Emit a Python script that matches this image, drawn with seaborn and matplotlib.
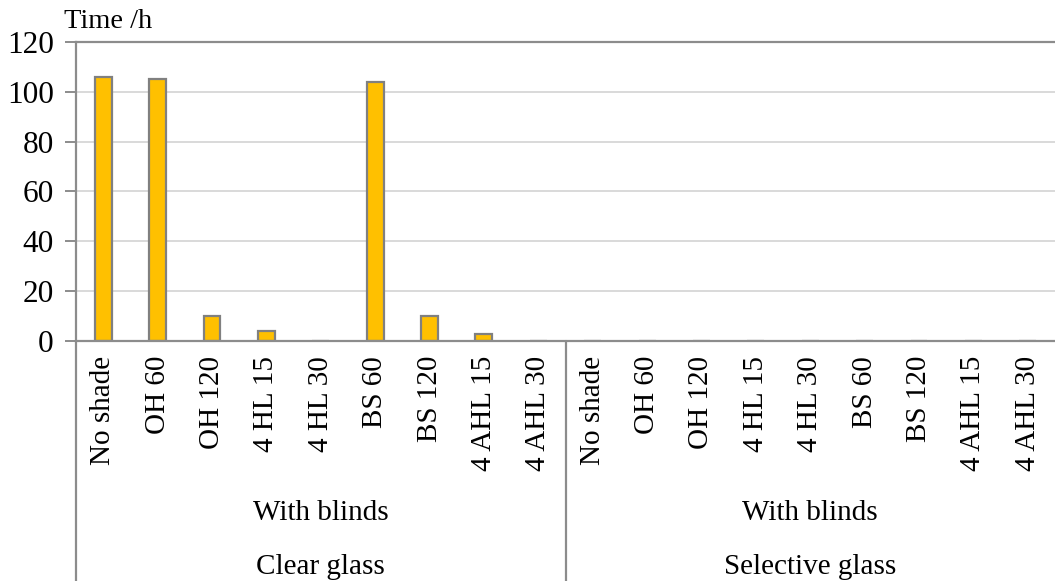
import matplotlib
matplotlib.use("Agg")
import matplotlib.pyplot as plt
import seaborn as sns
import pandas as pd
from matplotlib.lines import Line2D

# Data
glass_types = ["Clear glass", "Selective glass"]
shading_group = "With blinds"
configs = ["No shade", "OH 60", "OH 120", "4 HL 15", "4 HL 30",
           "BS 60", "BS 120", "4 AHL 15", "4 AHL 30"]
clear_hours = [106, 105, 10, 4, 0, 104, 10, 3, 0]
selective_hours = [0, 0, 0, 0, 0, 0, 0, 0, 0]

rows = []
for glass, hours in zip(glass_types, [clear_hours, selective_hours]):
    for cfg, h in zip(configs, hours):
        rows.append({"slot": f"{glass}|{cfg}", "glass": glass, "config": cfg, "hours": h})
df = pd.DataFrame(rows)

sns.set_theme(style="white")
plt.rcParams["font.family"] = ["Liberation Serif", "DejaVu Serif"]
plt.rcParams["text.color"] = "black"

W, H = 1055, 581
fig = plt.figure(figsize=(W / 100, H / 100), dpi=100)
ax = fig.add_axes([76 / W, 1 - 341 / H, (W - 76) / W, (341 - 42) / H])

axis_col = "#8c8c8c"
sns.barplot(data=df, x="slot", y="hours", order=list(df["slot"]),
            color="#FFC000", saturation=1, width=0.31,
            edgecolor="#808080", linewidth=1.6, ax=ax, errorbar=None)

ax.set_ylim(0, 120)
ax.set_xlim(-0.5, len(df) - 0.5)
ax.set_yticks(range(0, 121, 20))
ax.yaxis.grid(True, color="#d9d9d9", linewidth=1.4)
ax.set_axisbelow(True)
ax.set_xlabel("")
ax.set_ylabel("")

ax.spines["right"].set_visible(False)
for s in ["left", "bottom", "top"]:
    ax.spines[s].set_color(axis_col)
    ax.spines[s].set_linewidth(1.6)

ax.tick_params(axis="y", which="major", left=True, length=8, width=1.4,
               color=axis_col, labelsize=22.5, pad=8, labelcolor="black")
ax.tick_params(axis="x", bottom=False, labelbottom=False)

# Rotated category labels below the axis
trans = ax.get_xaxis_transform()
for i, cfg in enumerate(df["config"]):
    ax.text(i, -(356 - 341) / 299, cfg, rotation=90, ha="center", va="top",
            fontsize=21, transform=trans)

# Multi-level group labels
n = len(configs)
for g, glass in enumerate(glass_types):
    center = g * n + (n - 1) / 2
    ax.text(center, -(513 - 341) / 299, shading_group, ha="center", va="center",
            fontsize=21, transform=trans)
    ax.text(center, -(567 - 341) / 299, glass, ha="center", va="center",
            fontsize=21, transform=trans)

# Left axis extension and group separator down to the bottom edge
y_bottom = -341 / 299 - 0.02
for xpos in [-0.5, n - 0.5]:
    ax.add_line(Line2D([xpos, xpos], [0, y_bottom], transform=trans,
                       color=axis_col, linewidth=1.6, clip_on=False))

fig.text(64 / W, 1 - 21 / H, "Time /h", ha="left", va="center", fontsize=20.5)

fig.savefig("out.png", dpi=100, facecolor="white")
